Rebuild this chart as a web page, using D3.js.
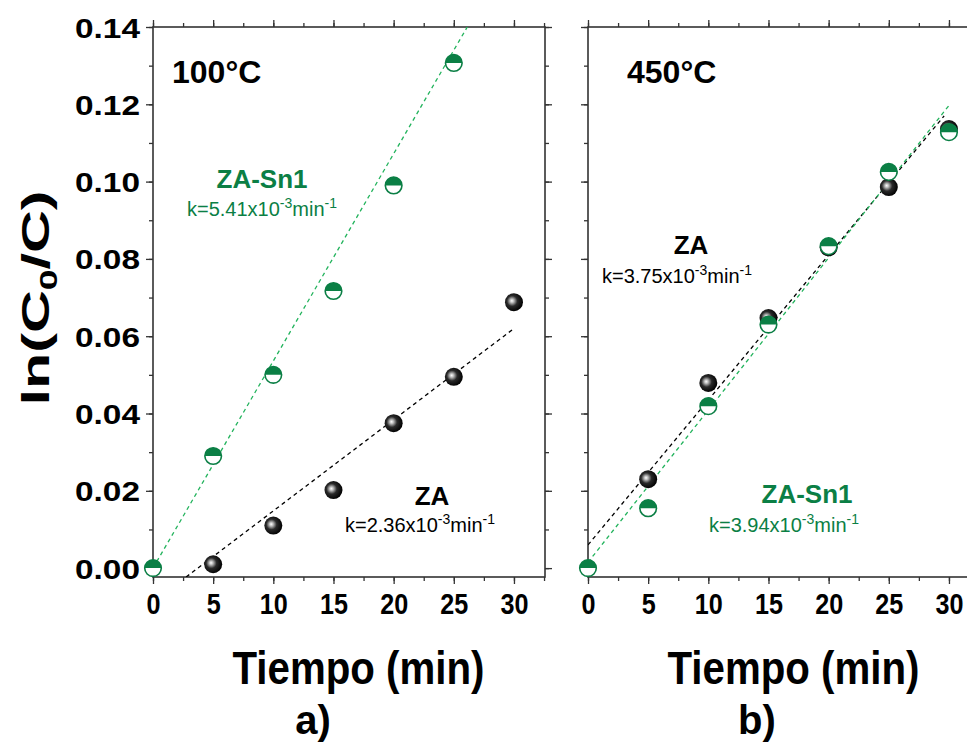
<!DOCTYPE html>
<html><head><meta charset="utf-8">
<script src="https://cdn.jsdelivr.net/npm/d3@7"></script>
<style>
body{margin:0;background:#fff}
svg{display:block}
text{font-family:Arial,"Liberation Sans",sans-serif}
</style></head>
<body><svg id="c" width="967" height="749"></svg>
<script>
// ---- data ----
const xTicks = [0,5,10,15,20,25,30];
const yTicks = [0,0.02,0.04,0.06,0.08,0.10,0.12,0.14];
const aZA_t = [5,10,15,20,25,30];
const aZA   = [0.001,0.011,0.0202,0.0375,0.0495,0.0688];
const aSn_t = [0,5,10,15,20,25];
const aSn   = [0,0.029,0.050,0.0717,0.099,0.1307];
const bZA_t = [5,10,15,20,25,30];
const bZA   = [0.023,0.0479,0.0647,0.083,0.0986,0.1136];
const bSn_t = [0,5,10,15,20,25,30];
const bSn   = [0,0.0155,0.0419,0.063,0.0833,0.1025,0.1128];
// linear fits: [slope, intercept, t start, t end]
const aZAfit = [0.00236,-0.0088,2.75,30];
const aSnfit = [0.00536,0,0,26.2];
const bZAfit = [0.00375,0.006,0,29.6];
const bSnfit = [0.00394,0.0015,0,30];
const panelTitles = ["100°C","450°C"];
const kLabels = ["2.36","5.41","3.75","3.94"];

const GREEN = "#0b7f45", GLINE = "#22b35c";
const svg = d3.select("#c");
const defs = svg.append("defs");
const g = defs.append("radialGradient").attr("id","ball").attr("cx","42%").attr("cy","45%").attr("r","58%").attr("fx","38%").attr("fy","42%");
g.append("stop").attr("offset","0%").attr("stop-color","#ffffff");
g.append("stop").attr("offset","18%").attr("stop-color","#bdbdbd");
g.append("stop").attr("offset","50%").attr("stop-color","#2a2a2a");
g.append("stop").attr("offset","100%").attr("stop-color","#000");

const y = d3.scaleLinear().domain([-0.0023,0.14]).range([577,27]);
const panels = [
  {x:d3.scaleLinear().domain([0,32.58]).range([153,545]), labels:true},
  {x:d3.scaleLinear().domain([0,32.58]).range([588,980]), labels:false}
];
const minorX = d3.range(0,32.6,2.5), minorY = d3.range(0,0.1401,0.01);

panels.forEach((p,i)=>{
  const x = p.x, G = svg.append("g");
  const [x0,x1] = x.range();
  const clipId = "clip"+i;
  defs.append("clipPath").attr("id",clipId).append("rect").attr("x",x0).attr("y",27).attr("width",x1-x0).attr("height",550);
  const ax = (gen, tr)=>{ const a=G.append("g").attr("transform",tr).call(gen);
     a.select(".domain").remove(); a.selectAll("line").attr("stroke","#333").attr("stroke-width",1.3); return a; };
  // minor ticks
  ax(d3.axisBottom(x).tickValues(minorX).tickSize(4).tickFormat(""),`translate(0,577)`);
  ax(d3.axisTop(x).tickValues(minorX).tickSize(4).tickFormat(""),`translate(0,27)`);
  ax(d3.axisLeft(y).tickValues(minorY).tickSize(4).tickFormat(""),`translate(${x0},0)`);
  ax(d3.axisRight(y).tickValues(minorY).tickSize(4).tickFormat(""),`translate(${x1},0)`);
  // major
  const bx = ax(d3.axisBottom(x).tickValues(xTicks).tickSize(7).tickPadding(9),`translate(0,577)`);
  bx.selectAll("text").attr("font-size",30).attr("font-weight","bold").attr("fill","#000")
    .attr("textLength",d=>d<10?14:28).attr("lengthAdjust","spacingAndGlyphs");
  ax(d3.axisTop(x).tickValues(xTicks).tickSize(7).tickFormat(""),`translate(0,27)`);
  const ly = ax(d3.axisLeft(y).tickValues(yTicks).tickSize(7).tickPadding(6).tickFormat(p.labels?d3.format(".2f"):""),`translate(${x0},0)`);
  ly.selectAll("text").attr("font-size",28).attr("font-weight","bold").attr("fill","#000").attr("dy","0.36em")
    .attr("textLength",p.labels?65:null).attr("lengthAdjust","spacingAndGlyphs");
  ax(d3.axisRight(y).tickValues(yTicks).tickSize(7).tickFormat(""),`translate(${x1},0)`);
  // frame
  G.append("rect").attr("x",x0).attr("y",27).attr("width",x1-x0).attr("height",550)
    .attr("fill","none").attr("stroke","#333").attr("stroke-width",1.6);
  // x title
  G.append("text").attr("x",(x(0)+x(30))/2+25).attr("y",684)
    .attr("text-anchor","middle").attr("font-size",47).attr("font-weight","bold")
    .attr("textLength",252).attr("lengthAdjust","spacingAndGlyphs").text("Tiempo (min)");
  // fits + markers
  const plot = G.append("g").attr("clip-path",`url(#${clipId})`);
  const fits = i===0?[[aZAfit,"#000"],[aSnfit,GLINE]]:[[bZAfit,"#000"],[bSnfit,GLINE]];
  fits.forEach(([f,c])=>{
    plot.append("line").attr("x1",x(f[2])).attr("y1",y(f[0]*f[2]+f[1]))
      .attr("x2",x(f[3])).attr("y2",y(f[0]*f[3]+f[1]))
      .attr("stroke",c).attr("stroke-width",1.3).attr("stroke-dasharray","4,3.5");
  });
  const zt = i===0?aZA_t:bZA_t, zv = i===0?aZA:bZA;
  const st = i===0?aSn_t:bSn_t, sv = i===0?aSn:bSn;
  svg.append("g").selectAll("circle").data(zt).join("circle")
    .attr("cx",(d)=>x(d)).attr("cy",(d,j)=>y(zv[j])).attr("r",9).attr("fill","url(#ball)");
  const sg = svg.append("g").selectAll("g").data(st).join("g")
    .attr("transform",(d,j)=>`translate(${x(d)},${y(sv[j])})`);
  sg.append("circle").attr("r",8.3).attr("fill","#fff").attr("stroke",GREEN).attr("stroke-width",1.6);
  sg.append("path").attr("d","M-8.3,0A8.3,8.3 0 0 1 8.3,0Z").attr("fill",GREEN);
});

// annotations
function ann(xp,yp,txt,size,color,bold,anchor){
  return svg.append("text").attr("x",xp).attr("y",yp).attr("font-size",size).attr("fill",color)
    .attr("font-weight",bold?"bold":"normal").attr("text-anchor",anchor||"start").text(txt);
}
function kann(xp,yp,k,color){
  const t = svg.append("text").attr("x",xp).attr("y",yp).attr("font-size",20).attr("fill",color);
  t.append("tspan").text("k="+k+"x10");
  t.append("tspan").attr("dy",-8).attr("font-size",14).text("-3");
  t.append("tspan").attr("dy",8).text("min");
  t.append("tspan").attr("dy",-8).attr("font-size",14).text("-1");
}
ann(172,83,panelTitles[0],32,"#000",true);
ann(627,83,panelTitles[1],32,"#000",true);
ann(262,188,"ZA-Sn1",26,GREEN,true,"middle");
kann(187,216,kLabels[1],GREEN);
ann(432,505,"ZA",26,"#000",true,"middle");
kann(345,532,kLabels[0],"#000");
ann(691,254,"ZA",26,"#000",true,"middle");
kann(602,283,kLabels[2],"#000");
ann(807,503,"ZA-Sn1",26,GREEN,true,"middle");
kann(709,532,kLabels[3],GREEN);

// y title
const yt = svg.append("text").attr("transform","translate(49,298) rotate(-90)")
  .attr("text-anchor","middle").attr("font-size",38).attr("font-weight","bold")
  .attr("textLength",215).attr("lengthAdjust","spacingAndGlyphs");
yt.append("tspan").text("ln(C");
yt.append("tspan").attr("font-size",24).attr("dy",8).text("0");
yt.append("tspan").attr("dy",-8).text("/C)");

// panel letters
svg.append("text").attr("x",313).attr("y",734).attr("text-anchor","middle")
  .attr("font-family","'Liberation Serif','Times New Roman',serif").attr("font-weight","bold").attr("font-size",40).text("a)");
svg.append("text").attr("x",757).attr("y",734).attr("text-anchor","middle")
  .attr("font-family","'Liberation Serif','Times New Roman',serif").attr("font-weight","bold").attr("font-size",40).text("b)");
</script></body></html>
